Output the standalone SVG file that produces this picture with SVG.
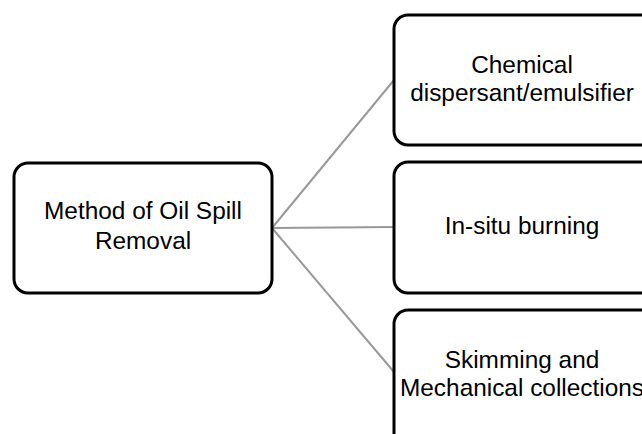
<svg xmlns="http://www.w3.org/2000/svg" width="642" height="434" viewBox="0 0 642 434">
<style>
.box{fill:#fff;stroke:#000;stroke-width:3}
.lbl{font-family:"Liberation Sans",Arial,sans-serif;font-size:24.4px;fill:#000;text-anchor:middle}
.conn{stroke:#999;stroke-width:2;fill:none}
</style>
<rect width="642" height="434" fill="#fff"/>
<g id="connectors">
<line class="conn" x1="272" y1="228" x2="394" y2="80"/>
<line class="conn" x1="272" y1="228" x2="394" y2="227"/>
<line class="conn" x1="272" y1="228" x2="394" y2="372"/>
</g>
<g id="root">
<rect class="box" x="14" y="163" width="258" height="130" rx="14"/>
<text class="lbl" x="143" y="219">Method of Oil Spill</text>
<text class="lbl" x="143" y="249">Removal</text>
</g>
<g id="chemical">
<rect class="box" x="394" y="15" width="262" height="130" rx="14"/>
<text class="lbl" x="522" y="73">Chemical</text>
<text class="lbl" x="522" y="101">dispersant/emulsifier</text>
</g>
<g id="burning">
<rect class="box" x="394" y="162" width="262" height="131" rx="14"/>
<text class="lbl" x="522" y="234">In-situ burning</text>
</g>
<g id="skimming">
<rect class="box" x="394" y="310" width="262" height="140" rx="14"/>
<text class="lbl" x="522" y="368">Skimming and</text>
<text class="lbl" x="522" y="396">Mechanical collections</text>
</g>
</svg>
